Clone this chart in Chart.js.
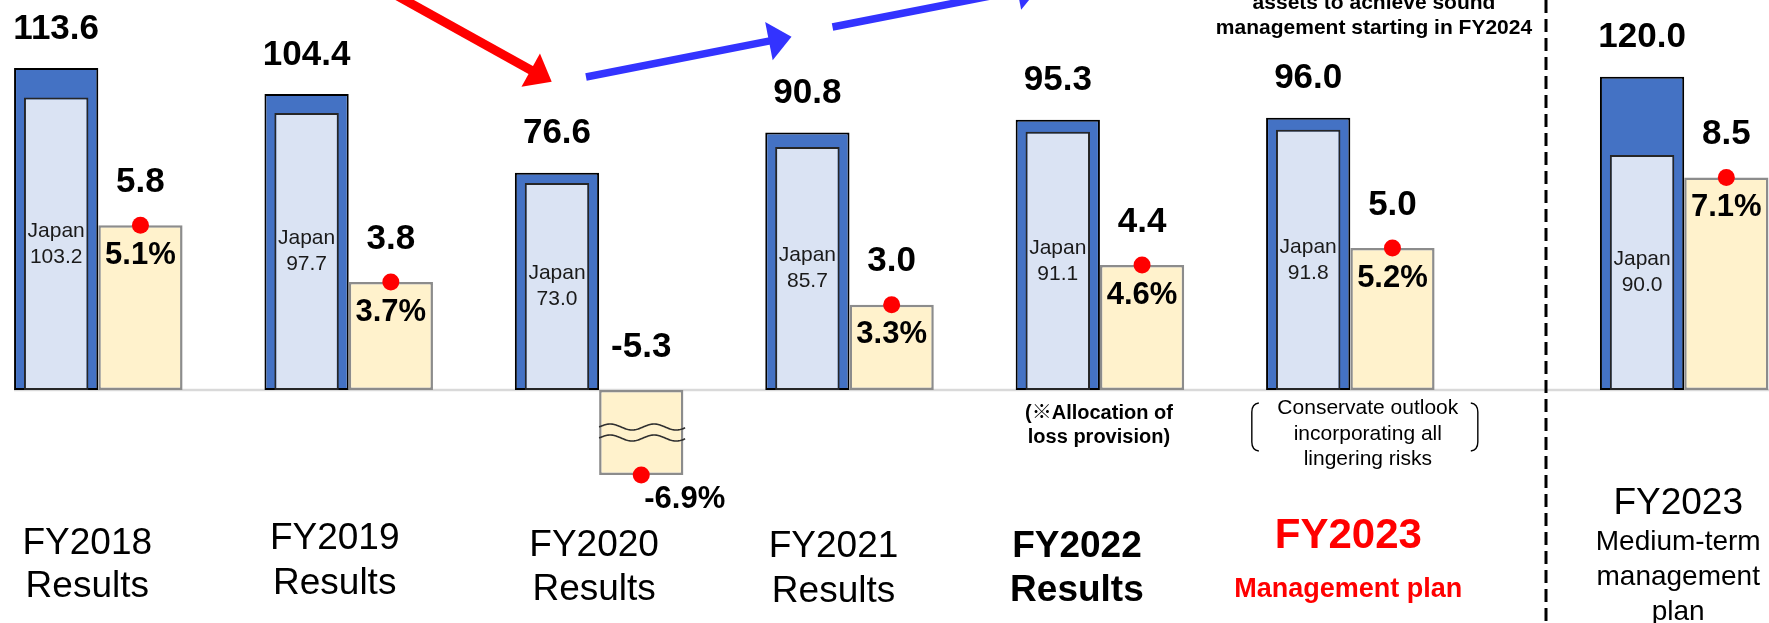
<!DOCTYPE html>
<html>
<head>
<meta charset="utf-8">
<script src="https://cdn.jsdelivr.net/npm/chart.js@4.4.1/dist/chart.umd.min.js"></script>
<style>
  html, body { margin: 0; padding: 0; background: #ffffff; }
  #wrap { position: relative; width: 1769px; height: 623px; }
</style>
</head>
<body>
<div id="wrap"><canvas id="chart"></canvas></div>
<script>
// Net sales (with Japan portion) and operating income, billion yen, by fiscal year
const categories = [
  ['FY2018', 'Results'],
  ['FY2019', 'Results'],
  ['FY2020', 'Results'],
  ['FY2021', 'Results'],
  ['FY2022', 'Results'],
  ['FY2023', 'Management plan'],
  ['FY2023', 'Medium-term', 'management', 'plan']
];
const netSales        = [113.6, 104.4, 76.6, 90.8, 95.3, 96.0, 120.0];
const japanSales      = [103.2, 97.7, 73.0, 85.7, 91.1, 91.8, 90.0];
const operatingIncome = [5.8, 3.8, -5.3, 3.0, 4.4, 5.0, 8.5];
const operatingMargin = [5.1, 3.7, -6.9, 3.3, 4.6, 5.2, 7.1];
const notes = {
  4: ['(\u203BAllocation of', 'loss provision)'],
  5: ['Conservate outlook', 'incorporating all', 'lingering risks']
};
const headline = ['assets to achieve sound', 'management starting in FY2024'];

// ---- layout ----
const FONT = '"Liberation Sans", Arial, "Noto Sans CJK JP", sans-serif';
const W = 1769, H = 623, ZERO_Y = 390;     // zero line shared by all value axes
const PLAN_START = 6;                        // medium-term plan sits right of the divider
const PANEL_GAP = 1 / 3;                     // extra spacing before that panel
const CAT_PCT = 0.673;
const slotOf = i => i + (i >= PLAN_START ? PANEL_GAP : 0);
const rangeFor = ppu => ({ min: -(H - ZERO_Y) / ppu, max: ZERO_Y / ppu });

// category captions: offset from slot centre, rows of [distance below zero line, font size]
const captionLayout = [
  { dx: -11, rows: [[153.5, 37], [197, 37]] },
  { dx: -14, rows: [[148.3, 37], [193.3, 37]] },
  { dx: -5,  rows: [[155.5, 37], [200, 37]] },
  { dx: -16, rows: [[156.7, 37], [201.7, 37]] },
  { dx: -23, rows: [[156.7, 37], [201, 37]], bold: true },
  { dx: -2,  rows: [[146, 42], [200, 27]], bold: true, color: '#FF0000' },
  { dx: -6,  rows: [[114, 37], [152, 28], [187, 28], [222, 28]] }
];

// Linear scale with a compressed stretch below `breakAt`, for the loss year
class BrokenLinearScale extends Chart.LinearScale {
  static id = 'brokenLinear';
  static defaults = {};
  squeeze(v) {
    const b = this.options.breakAt, k = this.options.breakRatio;
    return v < b ? b + (v - b) * k : v;
  }
  getPixelForValue(value) {
    return value === null ? NaN : super.getPixelForValue(this.squeeze(value));
  }
  getValueForPixel(pixel) {
    const v = super.getValueForPixel(pixel);
    const b = this.options.breakAt, k = this.options.breakRatio;
    return v < b ? b + (v - b) / k : v;
  }
}
Chart.register(BrokenLinearScale);

// one set of datasets per panel, each panel on its own pair of value axes
const panels = [
  { idx: [0, 1, 2, 3, 4, 5], y: 'y', y1: 'y1' },
  { idx: [6], y: 'yPlan', y1: 'y1Plan' }
];
const datasets = [];
panels.forEach(p => {
  const pts = arr => p.idx.map(i => ({ x: slotOf(i), y: arr[i] }));
  datasets.push({
    type: 'bar', role: 'total', cats: p.idx, data: pts(netSales), yAxisID: p.y,
    stack: 'sales', order: 3, backgroundColor: '#4472C4', borderColor: '#000000',
    borderWidth: 2, borderSkipped: false, barPercentage: 1, categoryPercentage: CAT_PCT
  });
  datasets.push({
    type: 'bar', role: 'japan', cats: p.idx, data: pts(japanSales), yAxisID: p.y,
    stack: 'sales', order: 1, backgroundColor: '#DAE3F3', borderColor: '#262626',
    borderWidth: 2, borderSkipped: false, barPercentage: 0.765, categoryPercentage: CAT_PCT
  });
  datasets.push({
    type: 'bar', role: 'income', cats: p.idx, data: pts(operatingIncome), yAxisID: p.y1,
    stack: 'income', order: 2, backgroundColor: '#FFF2CC', borderColor: '#8C8C8C',
    borderWidth: 2.5, borderSkipped: false, barPercentage: 1, categoryPercentage: CAT_PCT
  });
  datasets.push({
    type: 'line', role: 'marker', cats: p.idx, yAxisID: p.y1, order: 0,
    data: p.idx.map(i => ({ x: slotOf(i) + CAT_PCT / 4, y: operatingIncome[i] })),
    showLine: false, pointRadius: 8.5, pointBackgroundColor: '#FF0000', pointBorderWidth: 0
  });
});

function label(ctx, str, x, y, size, opts = {}) {
  ctx.font = (opts.bold ? 'bold ' : '') + size + 'px ' + FONT;
  ctx.fillStyle = opts.color || '#000000';
  ctx.textAlign = opts.align || 'center';
  ctx.textBaseline = 'middle';
  ctx.fillText(str, x, y);
}

function arrow(ctx, x0, y0, x1, y1, color, shaft, headLen, headHalf) {
  const a = Math.atan2(y1 - y0, x1 - x0);
  const bx = x1 - headLen * Math.cos(a), by = y1 - headLen * Math.sin(a);
  ctx.save();
  ctx.strokeStyle = color; ctx.lineWidth = shaft; ctx.lineCap = 'butt';
  ctx.beginPath(); ctx.moveTo(x0, y0); ctx.lineTo(bx + Math.cos(a), by + Math.sin(a)); ctx.stroke();
  ctx.fillStyle = color;
  ctx.beginPath();
  ctx.moveTo(x1, y1);
  ctx.lineTo(bx + headHalf * Math.sin(a), by - headHalf * Math.cos(a));
  ctx.lineTo(bx - headHalf * Math.sin(a), by + headHalf * Math.cos(a));
  ctx.closePath(); ctx.fill();
  ctx.restore();
}

function breakMark(ctx, x0, x1, yc) {
  ctx.save();
  ctx.strokeStyle = '#303030'; ctx.lineWidth = 1.6;
  [-5.5, 5.5].forEach(off => {
    ctx.beginPath();
    for (let x = x0; x <= x1; x += 1) {
      const y = yc + off - 3 * Math.sin((x - x0) / 44 * 2 * Math.PI);
      if (x === x0) ctx.moveTo(x, y); else ctx.lineTo(x, y);
    }
    ctx.stroke();
  });
  ctx.restore();
}

function bracket(ctx, x, top, bottom, dir) {
  ctx.save();
  ctx.strokeStyle = '#000000'; ctx.lineWidth = 1.4;
  ctx.beginPath();
  ctx.moveTo(x + 7 * dir, top);
  ctx.quadraticCurveTo(x, top + 1, x, top + 9);
  ctx.lineTo(x, bottom - 9);
  ctx.quadraticCurveTo(x, bottom - 1, x + 7 * dir, bottom);
  ctx.stroke();
  ctx.restore();
}

const decorations = {
  id: 'decorations',
  beforeDatasetsDraw(chart) {
    const ctx = chart.ctx;
    const zy = chart.scales.y.getPixelForValue(0);
    ctx.save();
    ctx.strokeStyle = '#D9D9D9'; ctx.lineWidth = 2.5;
    ctx.beginPath(); ctx.moveTo(14, zy); ctx.lineTo(W, zy); ctx.stroke();
    ctx.restore();
  },
  afterDatasetsDraw(chart) {
    const ctx = chart.ctx;
    chart.data.datasets.forEach((ds, k) => {
      const meta = chart.getDatasetMeta(k);
      if (ds.role === 'marker') return;
      meta.data.forEach((el, j) => {
        const i = ds.cats[j];
        const { x, y, base, width } = el.getProps(['x', 'y', 'base', 'width'], true);
        if (ds.role === 'total') {
          label(ctx, netSales[i].toFixed(1), x, y - 39, 35, { bold: true });
        } else if (ds.role === 'japan') {
          const mid = (y + base) / 2;
          label(ctx, 'Japan', x, mid - 13, 21, { color: '#1a1a1a' });
          label(ctx, japanSales[i].toFixed(1), x, mid + 13, 21, { color: '#1a1a1a' });
        } else if (ds.role === 'income') {
          const v = operatingIncome[i];
          const scale = chart.scales[ds.yAxisID];
          label(ctx, v.toFixed(1), x, Math.min(y, base) - 43, 35, { bold: true });
          if (v >= 0) {
            label(ctx, operatingMargin[i].toFixed(1) + '%', x, y + 30, 31, { bold: true });
          } else {
            if (scale.options.breakAt !== undefined && v < scale.options.breakAt) {
              breakMark(ctx, x - width / 2, x + width / 2 + 2, (y + base) / 2);
            }
            label(ctx, operatingMargin[i].toFixed(1) + '%', x + 3, y + 24, 31, { bold: true, align: 'left' });
          }
        }
      });
    });
  },
  afterDraw(chart) {
    const ctx = chart.ctx;
    const xs = chart.scales.x;
    const zy = chart.scales.y.getPixelForValue(0);

    // category captions
    categories.forEach((lines, i) => {
      const lay = captionLayout[i];
      const cx = xs.getPixelForValue(slotOf(i)) + lay.dx;
      lines.forEach((t, r) => {
        const [dy, size] = lay.rows[r];
        label(ctx, t, cx, zy + dy, size, { bold: lay.bold, color: lay.color });
      });
    });

    // notes under the FY2022 results and the FY2023 plan
    const c4 = xs.getPixelForValue(slotOf(4)) - 1;
    notes[4].forEach((t, r) => label(ctx, t, c4, zy + 23 + r * 24, 20, { bold: true }));
    const c5 = xs.getPixelForValue(slotOf(5)) + 17.5;
    notes[5].forEach((t, r) => label(ctx, t, c5, zy + 18.5 + r * 25.5, 21));
    bracket(ctx, c5 - 116, zy + 13, zy + 61, 1);
    bracket(ctx, c5 + 110, zy + 13, zy + 61, -1);

    // divider between results/plan and the medium-term plan
    ctx.save();
    ctx.strokeStyle = '#000000'; ctx.lineWidth = 3; ctx.setLineDash([13, 6]);
    ctx.beginPath(); ctx.moveTo(1546, 0); ctx.lineTo(1546, H); ctx.stroke();
    ctx.restore();

    // headline text at the top of the plan column
    headline.forEach((t, r) => label(ctx, t, 1374, 3.5 + r * 25, 21, { bold: true }));

    // trend arrows
    arrow(ctx, 390.3, -8, 551.7, 81.7, '#FF0000', 9, 24, 19);
    arrow(ctx, 586, 77, 791.5, 36.7, '#3333FF', 7.5, 23, 19.5);
    arrow(ctx, 832.5, 27, 1040, -13.7, '#3333FF', 7.5, 23, 19.5);
  }
};

new Chart(document.getElementById('chart'), {
  type: 'bar',
  data: { datasets },
  options: {
    responsive: true,
    maintainAspectRatio: false,
    animation: false,
    devicePixelRatio: 1,
    events: [],
    layout: { padding: 0, autoPadding: false },
    plugins: { legend: { display: false }, title: { display: false }, tooltip: { enabled: false } },
    scales: {
      x: {
        type: 'linear', display: false, offset: false, min: -0.3926, max: 6.672,
        afterBuildTicks: s => { s.ticks = categories.map((_, i) => ({ value: slotOf(i) })); }
      },
      y:      { type: 'linear', display: false, stacked: false, ...rangeFor(2.835) },
      y1:     { type: 'brokenLinear', display: false, stacked: false, breakAt: -1, breakRatio: 0.4635, ...rangeFor(28.4) },
      yPlan:  { type: 'linear', display: false, stacked: false, ...rangeFor(2.61) },
      y1Plan: { type: 'linear', display: false, stacked: false, ...rangeFor(25.0) }
    }
  },
  plugins: [decorations]
});
</script>
</body>
</html>
